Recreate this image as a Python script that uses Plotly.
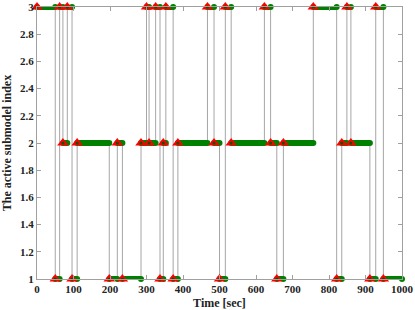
import plotly.graph_objects as go

# switch times (sec) and active submodel index of each segment
switch_times = [0, 50, 62, 71, 83, 96, 110, 198, 220, 234, 285, 300, 307, 325, 337,
                346, 353, 373, 386, 467, 485, 500, 516, 532, 623, 640, 657, 675, 757,
                821, 835, 849, 860, 912, 928, 949]
active_index = [3, 1, 3, 2, 3, 1, 2, 1, 2, 1, 2, 3, 2, 3, 1,
                2, 3, 1, 2, 3, 2, 1, 3, 2, 3, 2, 1, 2, 3,
                1, 2, 3, 2, 1, 3, 1]
t_end = 1000
x_ticks = [0, 100, 200, 300, 400, 500, 600, 700, 800, 900, 1000]
y_ticks = [1, 1.2, 1.4, 1.6, 1.8, 2, 2.2, 2.4, 2.6, 2.8, 3]

ends = switch_times[1:] + [t_end]

fig = go.Figure()

# gray step trajectory
fig.add_trace(go.Scatter(
    x=switch_times + [t_end], y=active_index + [active_index[-1]],
    mode="lines", line=dict(color="#a6a6a6", width=1, shape="hv"),
    hoverinfo="skip", showlegend=False, cliponaxis=False))

# green active segments
gx, gy = [], []
for s, e, l in zip(switch_times, ends, active_index):
    gx += [s, e, None]
    gy += [l, l, None]
fig.add_trace(go.Scatter(
    x=gx, y=gy, mode="lines+markers",
    line=dict(color="#008000", width=6),
    marker=dict(color="#008000", size=6, symbol="circle"),
    showlegend=False, cliponaxis=False))

# red triangles at switching instants
fig.add_trace(go.Scatter(
    x=switch_times, y=active_index, mode="markers",
    marker=dict(symbol="triangle-up", size=10, color="#ff0000",
                line=dict(width=0)),
    showlegend=False, cliponaxis=False))
fig.add_trace(go.Scatter(
    x=switch_times, y=active_index, mode="markers",
    marker=dict(symbol="circle", size=3, color="#1a4d00"),
    showlegend=False, cliponaxis=False))

axis_common = dict(
    showgrid=False, zeroline=False, showline=True, linecolor="#a0a0a0",
    linewidth=1, mirror="ticks", ticks="inside", ticklen=4, tickcolor="#a0a0a0",
    tickfont=dict(family="Liberation Serif", size=11, color="#222"),
    automargin=False)

fig.update_xaxes(range=[0, 1000], tickvals=x_ticks,
                 ticktext=[f"<b>{v}</b>" for v in x_ticks],
                 title=dict(text="<b>Time [sec]</b>", standoff=4,
                            font=dict(family="Liberation Serif", size=12, color="#222")),
                 **axis_common)
fig.update_yaxes(range=[1, 3], tickvals=y_ticks,
                 ticktext=[f"<b>{v:g}</b>" for v in y_ticks],
                 title=dict(text="<b>The active submodel index</b>", standoff=6,
                            font=dict(family="Liberation Serif", size=12, color="#222")),
                 **axis_common)

fig.update_layout(
    width=415, height=310,
    margin=dict(l=37, r=13, t=7, b=31),
    plot_bgcolor="white", paper_bgcolor="white",
)

fig.write_html("out.html", config={"displayModeBar": False},
               post_script="document.body.style.margin='0';")
